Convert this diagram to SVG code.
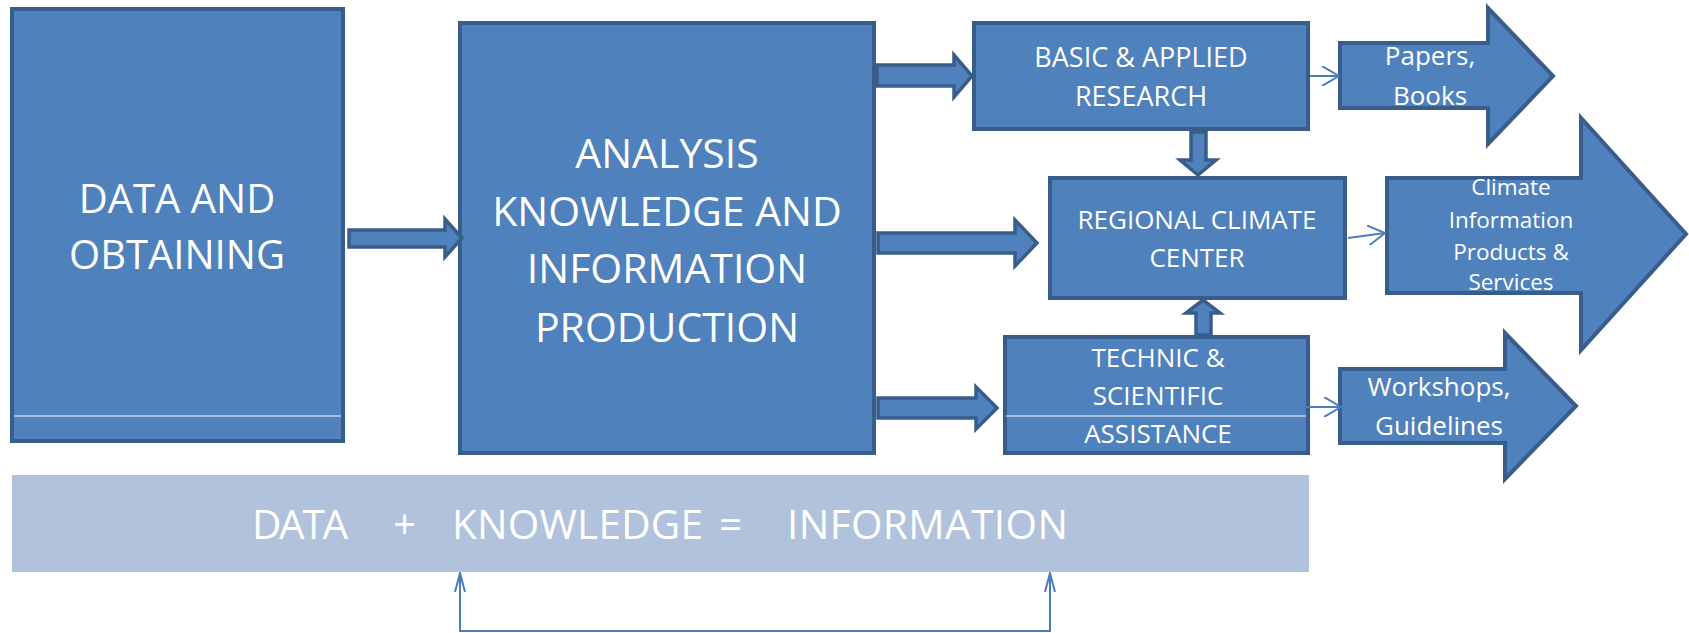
<svg xmlns="http://www.w3.org/2000/svg" width="1689" height="633" viewBox="0 0 1689 633">
<style>
.box{fill:#4f81bd;stroke:#385d8a;stroke-width:4}
.barrow{fill:#4f81bd;stroke:#385d8a;stroke-width:3.5;stroke-linejoin:miter}
.out{fill:#4f81bd;stroke:#385d8a;stroke-width:4;stroke-linejoin:miter}
.t{font-family:"Open Sans","Noto Sans",sans-serif;fill:#ffffff;text-anchor:middle}
.thin{fill:none;stroke:#4a7ebb;stroke-width:2}
.sep{stroke:#ffffff;stroke-width:1.2}
</style>
<defs>
<marker id="open" viewBox="0 0 18 20" refX="17" refY="10" markerWidth="18" markerHeight="20" markerUnits="userSpaceOnUse" orient="auto">
<path d="M0,0 L17,10 L0,20" fill="none" stroke="#4a7ebb" stroke-width="2"/>
</marker>
<marker id="narrow" viewBox="0 0 20 12" refX="19" refY="6" markerWidth="20" markerHeight="12" markerUnits="userSpaceOnUse" orient="auto-start-reverse">
<path d="M0,1 L19,6 L0,11" fill="none" stroke="#4a7ebb" stroke-width="2"/>
</marker>
</defs>

<g id="band">
<rect x="12" y="475" width="1297" height="97" fill="#b1c2dd"/>
<text class="t" style="text-anchor:start" font-size="40.5" y="539"><tspan x="252" textLength="96">DATA</tspan><tspan x="393">+</tspan><tspan x="452" textLength="251">KNOWLEDGE</tspan><tspan x="719">=</tspan><tspan x="787" textLength="281">INFORMATION</tspan></text>
</g>

<g id="data">
<rect class="box" x="12" y="9" width="331" height="432"/>
<line class="sep" x1="14" y1="416" x2="341" y2="416"/>
<text class="t" font-size="40" x="177" y="213">DATA AND</text>
<text class="t" font-size="40" x="177" y="269">OBTAINING</text>
</g>

<g id="analysis">
<rect class="box" x="460" y="23" width="414" height="430"/>
<text class="t" font-size="41" x="667" y="168">ANALYSIS</text>
<text class="t" font-size="41" x="667" y="226">KNOWLEDGE AND</text>
<text class="t" font-size="41" x="667" y="283">INFORMATION</text>
<text class="t" font-size="41" x="667" y="342">PRODUCTION</text>
</g>

<g id="basic">
<rect class="box" x="974" y="23" width="334" height="106"/>
<text class="t" font-size="27" x="1141" y="67">BASIC &amp; APPLIED</text>
<text class="t" font-size="27" x="1141" y="106">RESEARCH</text>
</g>

<g id="regional">
<rect class="box" x="1050" y="178" width="295" height="120"/>
<text class="t" font-size="26" x="1197" y="229">REGIONAL CLIMATE</text>
<text class="t" font-size="26" x="1197" y="267">CENTER</text>
</g>

<g id="technic">
<rect class="box" x="1005" y="337" width="303" height="116"/>
<line class="sep" x1="1006" y1="416" x2="1306" y2="416"/>
<text class="t" font-size="26" x="1158" y="367">TECHNIC &amp;</text>
<text class="t" font-size="26" x="1158" y="405">SCIENTIFIC</text>
<text class="t" font-size="26" x="1158" y="443">ASSISTANCE</text>
</g>

<g id="papers">
<polygon class="out" points="1340,43 1488,43 1488,8 1553,76 1488,144 1488,108 1340,108"/>
<text class="t" font-size="26" x="1430" y="65">Papers,</text>
<text class="t" font-size="26" x="1430" y="105">Books</text>
</g>

<g id="climate">
<polygon class="out" points="1387,178 1581,178 1581,118 1686,234 1581,350 1581,293 1387,293"/>
<text class="t" font-size="22.5" x="1511" y="195">Climate</text>
<text class="t" font-size="22.5" x="1511" y="228">Information</text>
<text class="t" font-size="22.5" x="1511" y="260">Products &amp;</text>
<text class="t" font-size="22.5" x="1511" y="290">Services</text>
</g>

<g id="workshops">
<polygon class="out" points="1340,369 1505,369 1505,333 1576,406 1505,479 1505,443 1340,443"/>
<text class="t" font-size="26" x="1439" y="396">Workshops,</text>
<text class="t" font-size="26" x="1439" y="435">Guidelines</text>
</g>

<g id="connectors">
<polygon class="barrow" points="349,230 445,230 445,219 462,238 445,257 445,247 349,247"/>
<polygon class="barrow" points="877,65 954,65 954,55 972,76 954,97 954,86 877,86"/>
<polygon class="barrow" points="878,233 1015,233 1015,220 1037,243 1015,266 1015,253 878,253"/>
<polygon class="barrow" points="878,398 976,398 976,387 997,408 976,429 976,418 878,418"/>
<polygon class="barrow" points="1191,132 1206,132 1206,160 1216,160 1198,175 1180,160 1191,160"/>
<polygon class="barrow" points="1196,335 1211,335 1211,313 1220,313 1203,300 1186,313 1196,313"/>
<line class="thin" x1="1310" y1="76" x2="1339" y2="76" marker-end="url(#open)"/>
<line class="thin" x1="1348" y1="238" x2="1385" y2="233" marker-end="url(#open)"/>
<line class="thin" x1="1304" y1="407" x2="1341" y2="407" marker-end="url(#open)"/>
<polyline class="thin" points="460,573 460,631 1050,631 1050,573" marker-start="url(#narrow)" marker-end="url(#narrow)"/>
</g>
</svg>
